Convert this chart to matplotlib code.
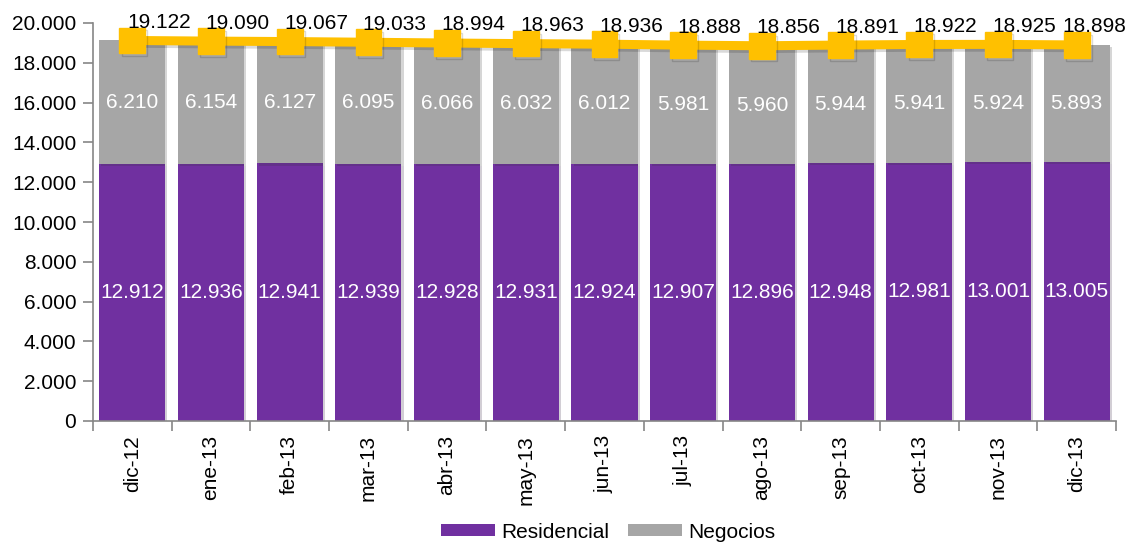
import matplotlib
matplotlib.use("Agg")
import matplotlib.pyplot as plt
import numpy as np
import matplotlib.patheffects as pe

plt.rcParams['font.family'] = ['Liberation Sans', 'DejaVu Sans']

categories = ["dic-12", "ene-13", "feb-13", "mar-13", "abr-13", "may-13", "jun-13",
              "jul-13", "ago-13", "sep-13", "oct-13", "nov-13", "dic-13"]
residencial = [12912, 12936, 12941, 12939, 12928, 12931, 12924, 12907, 12896, 12948, 12981, 13001, 13005]
negocios = [6210, 6154, 6127, 6095, 6066, 6032, 6012, 5981, 5960, 5944, 5941, 5924, 5893]
total = [19122, 19090, 19067, 19033, 18994, 18963, 18936, 18888, 18856, 18891, 18922, 18925, 18898]

def fmt(v):
    return f"{v:,}".replace(",", ".")

PURPLE = "#7030A0"
GRAY = "#A6A6A6"
ORANGE = "#FFC000"
AXC = "#868686"

fig = plt.figure(figsize=(11.31, 5.44), dpi=100)
ax = fig.add_axes([93/1131, 1-421/544, (1116-93)/1131, (421-23)/544])

x = np.arange(len(categories))
w = 0.84
shadow = [pe.SimplePatchShadow(offset=(1.5, -1.5), alpha=0.2), pe.Normal()]
b1 = ax.bar(x, residencial, w, color=PURPLE, label="Residencial", zorder=2, path_effects=shadow)
b2 = ax.bar(x, negocios, w, bottom=residencial, color=GRAY, label="Negocios", zorder=2, path_effects=shadow)

ax.plot(x, total, color=ORANGE, lw=6.5, marker='s', markersize=18.5, zorder=3,
        path_effects=[pe.SimpleLineShadow(offset=(1.5, -2), alpha=0.15), pe.Normal()])

fs = 15
n = len(x)
for i in range(n):
    ax.text(x[i], residencial[i] / 2, fmt(residencial[i]), color="white", ha="center", va="center", fontsize=fs, zorder=4)
    ax.text(x[i], residencial[i] + negocios[i] / 2, fmt(negocios[i]), color="white", ha="center", va="center", fontsize=fs, zorder=4)
    dx = 13 if i == n - 1 else 19
    ax.annotate(fmt(total[i]), (x[i], total[i]), xytext=(dx, 13), textcoords="offset points",
                ha="center", va="center", fontsize=fs, color="black", zorder=5)

ax.set_xlim(-0.5, n - 0.5)
ax.set_ylim(0, 20000)
ax.set_yticks(np.arange(0, 20001, 2000))
ax.set_yticklabels([fmt(v) for v in range(0, 20001, 2000)], fontsize=fs)
ax.set_xticks(x)
ax.set_xticklabels(categories, rotation=90, fontsize=fs)
ax.set_xticks(np.arange(-0.5, n, 1), minor=True)
ax.tick_params(axis='x', which='major', length=0, pad=10)
ax.tick_params(axis='x', which='minor', length=7, color=AXC, width=1.2)
ax.tick_params(axis='y', length=7, color=AXC, width=1.2, pad=5)

for s in ["top", "right"]:
    ax.spines[s].set_visible(False)
for s in ["left", "bottom"]:
    ax.spines[s].set_color(AXC)
    ax.spines[s].set_linewidth(1.2)

leg = fig.legend(handles=[b1, b2], labels=["Residencial", "Negocios"], loc="center",
                 bbox_to_anchor=(608/1131, 1-532/544), ncol=2, frameon=False, fontsize=fs,
                 handlelength=2.6, handleheight=0.5, handletextpad=0.3, columnspacing=0.9)
for h in leg.legend_handles:
    h.set_path_effects([])

fig.savefig("out.png", dpi=100)
